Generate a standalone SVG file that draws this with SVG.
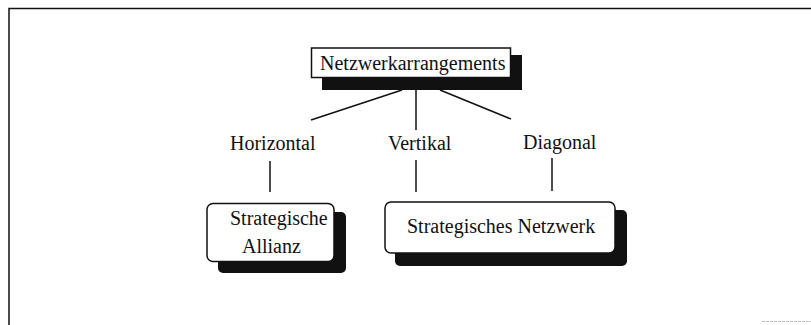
<svg xmlns="http://www.w3.org/2000/svg" width="811" height="325" viewBox="0 0 811 325">
<style>
.t{font-family:"Liberation Serif","Times New Roman",serif;font-size:20px;fill:#111}
.box{fill:#fff;stroke:#111;stroke-width:1.5}
.sh{fill:#111}
.ln{stroke:#111;stroke-width:1.5;fill:none}
</style>
<rect width="811" height="325" fill="#fff"/>
<path class="ln" d="M9,325 V8.5 H811"/>
<line x1="762" y1="321.5" x2="811" y2="321.5" stroke="#bbb" stroke-width="1" stroke-dasharray="3,1"/>
<g id="connectors">
<line class="ln" x1="402" y1="90" x2="311" y2="120"/>
<line class="ln" x1="416" y1="88" x2="416" y2="130"/>
<line class="ln" x1="440" y1="90" x2="511" y2="119"/>
<line class="ln" x1="270" y1="161" x2="270" y2="192"/>
<line class="ln" x1="416" y1="160" x2="416" y2="192"/>
<line class="ln" x1="552" y1="158" x2="552" y2="191"/>
</g>
<g id="netzwerkarrangements">
<rect class="sh" x="322" y="55" width="200" height="35"/>
<rect class="box" x="311.5" y="48" width="199" height="29.5"/>
<text class="t" x="320" y="70">Netzwerkarrangements</text>
</g>
<g id="horizontal"><text class="t" x="230" y="150">Horizontal</text></g>
<g id="vertikal"><text class="t" x="388" y="150">Vertikal</text></g>
<g id="diagonal"><text class="t" x="523" y="149">Diagonal</text></g>
<g id="allianz">
<rect class="sh" x="218" y="212" width="128" height="61" rx="5"/>
<rect class="box" x="207" y="203.5" width="127" height="58" rx="6"/>
<text class="t" x="230" y="225">Strategische</text>
<text class="t" x="242" y="253">Allianz</text>
</g>
<g id="netzwerk">
<rect class="sh" x="395" y="210" width="232" height="56" rx="5"/>
<rect class="box" x="385" y="202" width="230" height="51" rx="6"/>
<text class="t" x="407" y="233">Strategisches Netzwerk</text>
</g>
</svg>
